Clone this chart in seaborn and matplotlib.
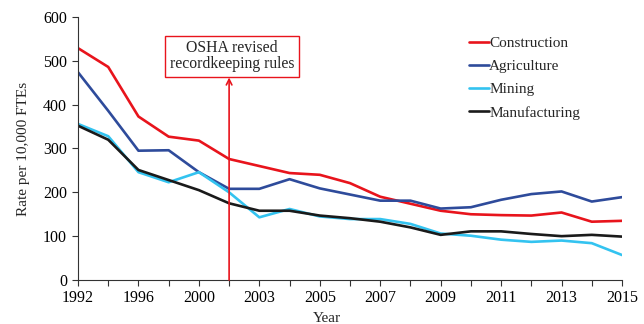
import matplotlib
matplotlib.use("Agg")
import matplotlib.pyplot as plt
import seaborn as sns
import pandas as pd

years = ["1992", "1994", "1996", "1998", "2000", "2002", "2003", "2004", "2005", "2006",
         "2007", "2008", "2009", "2010", "2011", "2012", "2013", "2014", "2015"]
construction = [529, 486, 373, 327, 318, 276, 260, 244, 240, 221, 190, 174, 158, 150, 148, 147, 154, 133, 135]
agriculture = [474, 386, 295, 296, 246, 208, 208, 230, 209, 195, 181, 181, 163, 166, 183, 196, 202, 179, 189]
mining = [356, 328, 246, 223, 246, 200, 143, 162, 145, 139, 139, 128, 106, 101, 92, 87, 90, 84, 57]
manufacturing = [352, 320, 251, 228, 205, 175, 158, 158, 147, 141, 133, 120, 103, 111, 111, 105, 100, 103, 99]
tick_labels = ["1992", "", "1996", "", "2000", "", "2003", "", "2005", "", "2007", "", "2009", "",
               "2011", "", "2013", "", "2015"]

series = {"Construction": construction, "Agriculture": agriculture,
          "Mining": mining, "Manufacturing": manufacturing}
colors = {"Construction": "#e8141c", "Agriculture": "#2e4b9b",
          "Mining": "#33c3f0", "Manufacturing": "#1a1a1a"}

rows = []
for name, vals in series.items():
    for i, v in enumerate(vals):
        rows.append({"pos": i, "Year": years[i], "Rate": v, "Industry": name})
df = pd.DataFrame(rows)

sns.set_style("ticks")
plt.rcParams["font.family"] = ["Liberation Serif", "DejaVu Serif"]

fig = plt.figure(figsize=(6.44, 3.24), dpi=100)
ax = fig.add_axes([78 / 644, 1 - 280 / 324, (622 - 78) / 644, (280 - 17) / 324])

sns.lineplot(data=df, x="pos", y="Rate", hue="Industry", palette=colors,
             linewidth=1.9, ax=ax, sort=False, legend=True)

ax.set_xlim(0, len(years) - 1)
ax.set_ylim(0, 600)
ax.set_xticks(range(len(years)))
ax.set_xticklabels(tick_labels, fontsize=11.5)
ax.set_yticks(range(0, 601, 100))
ax.tick_params(axis="y", labelsize=11.5, length=4, width=0.8, direction="out",
               colors="#333333", pad=4)
ax.tick_params(axis="x", length=4, width=0.8, direction="out", colors="#333333", pad=3)
for lbl in ax.get_xticklabels() + ax.get_yticklabels():
    lbl.set_color("black")
sns.despine(ax=ax)
for s in ["left", "bottom"]:
    ax.spines[s].set_color("#333333")
    ax.spines[s].set_linewidth(0.8)

ax.set_xlabel("")
fig.text(327 / 644, 1 - 318 / 324, "Year", ha="center", va="center", fontsize=11)
ax.set_ylabel("Rate per 10,000 FTEs", fontsize=11)
ax.yaxis.set_label_coords(-0.088, 0.5)

leg = ax.legend(loc="upper left", bbox_to_anchor=(0.708, 0.95), frameon=False,
                fontsize=11, handlelength=1.3, handletextpad=0.0, labelspacing=0.62,
                borderaxespad=0)
for line in leg.get_lines():
    line.set_linewidth(1.9)

red = "#e8141c"
ax.annotate("", xy=(5, 462), xytext=(5, 0),
            arrowprops=dict(arrowstyle="->", color=red, lw=1.2, shrinkA=0, shrinkB=0,
                            mutation_scale=10))
ax.text(5.1, 510, "OSHA revised\nrecordkeeping rules", ha="center", va="center",
        fontsize=11.3, linespacing=1.0,
        bbox=dict(boxstyle="square,pad=0.3", fc="white", ec=red, lw=1.0))

fig.savefig("out.png", dpi=100)
